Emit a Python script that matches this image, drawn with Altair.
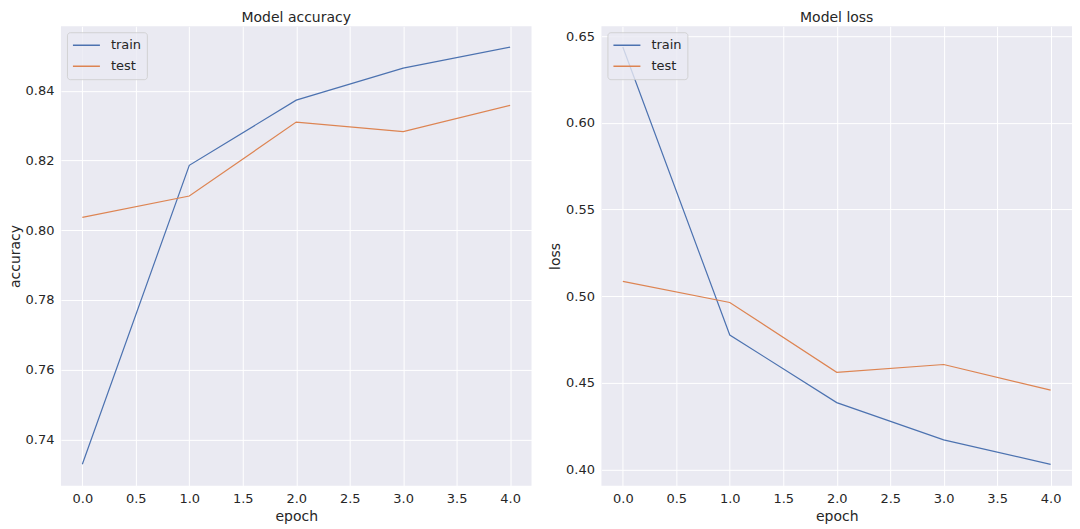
import altair as alt
import pandas as pd

epochs = [0, 1, 2, 3, 4]
series = ["train", "test"]
colors = ["#4c72b0", "#dd8452"]

train_acc = [0.7329, 0.8186, 0.8373, 0.8465, 0.8525]
test_acc = [0.8037, 0.8098, 0.8310, 0.8283, 0.8358]
train_loss = [0.6437, 0.4775, 0.4385, 0.4170, 0.4029]
test_loss = [0.5085, 0.4963, 0.4560, 0.4605, 0.4457]

x_ticks = [0.0, 0.5, 1.0, 1.5, 2.0, 2.5, 3.0, 3.5, 4.0]
acc_ticks = [0.74, 0.76, 0.78, 0.80, 0.82, 0.84]
loss_ticks = [0.40, 0.45, 0.50, 0.55, 0.60, 0.65]


def panel(title, ylabel, train, test, ydomain, yticks):
    df = pd.DataFrame({
        "epoch": epochs * 2,
        "value": train + test,
        "series": ["train"] * len(train) + ["test"] * len(test),
    })
    return alt.Chart(df, title=alt.Title(title)).mark_line(strokeWidth=1.2).encode(
        x=alt.X("epoch:Q",
                scale=alt.Scale(domain=[-0.2, 4.2], nice=False, zero=False),
                axis=alt.Axis(values=x_ticks, format=".1f", title="epoch")),
        y=alt.Y("value:Q",
                scale=alt.Scale(domain=ydomain, nice=False, zero=False),
                axis=alt.Axis(values=yticks, format=".2f", title=ylabel, titlePadding=3)),
        color=alt.Color("series:N",
                        scale=alt.Scale(domain=series, range=colors),
                        sort=series,
                        legend=alt.Legend(
                            title=None, orient="top-left", offset=6,
                            symbolType="stroke", symbolSize=729, symbolStrokeWidth=1.5,
                            labelFontSize=13, labelColor="#262626", labelOffset=10,
                            fillColor="rgba(234,234,242,0.8)",
                            strokeColor="rgba(204,204,204,0.8)",
                            cornerRadius=3, padding=5, rowPadding=5, clipHeight=16)),
        detail="series:N",
    ).properties(width=471, height=460)


left = panel("Model accuracy", "accuracy", train_acc, test_acc, [0.7267, 0.8585], acc_ticks)
right = panel("Model loss", "loss", train_loss, test_loss, [0.3905, 0.6557], loss_ticks)

chart = alt.hconcat(left, right, spacing=17).resolve_scale(color="independent").properties(
    padding={"left": 0, "top": 3, "right": 0, "bottom": 0}
).configure(font="DejaVu Sans").configure_view(
    fill="#eaeaf2", strokeWidth=0
).configure_axis(
    grid=True, gridColor="white", gridWidth=1, domain=False, ticks=False,
    labelFontSize=13, labelColor="#262626", labelPadding=7,
    titleFontSize=14, titleColor="#262626", titleFontWeight="normal", titlePadding=4
).configure_title(
    fontSize=14, fontWeight="normal", color="#262626", offset=1
)

chart.save("out.html", embed_options={"renderer": "svg", "actions": False})
